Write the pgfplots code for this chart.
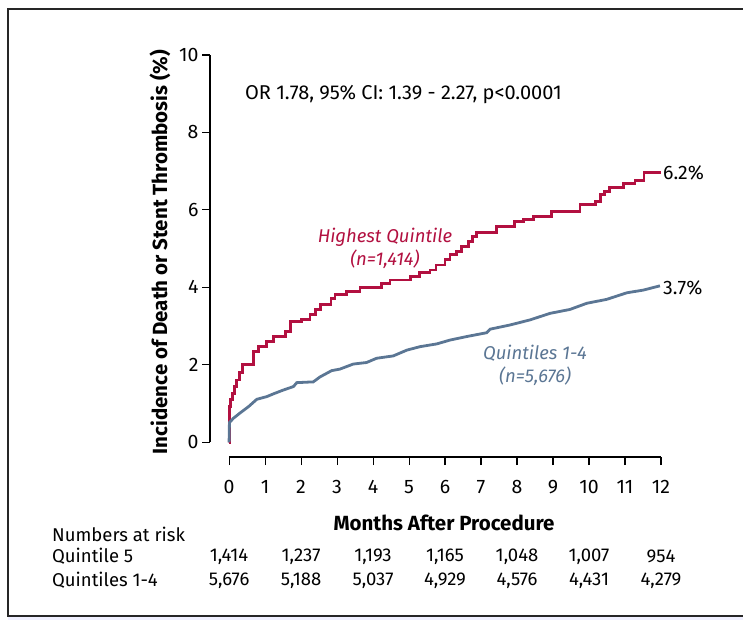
\documentclass[border=0pt]{standalone}
\usepackage{fontspec}
\setmainfont{Fira Sans}
\usepackage{pgfplots}
\pgfplotsset{compat=1.18}
\definecolor{qred}{RGB}{178,16,64}
\definecolor{qblue}{RGB}{91,118,148}
\tikzset{rfont/.style={font=\fontsize{18.5}{20}\selectfont}}
\begin{document}
\begin{tikzpicture}[x=1pt,y=1pt]
\useasboundingbox (0,0) rectangle (743,-620);
\fill[blue!6!white] (8,-617) rectangle (743,-620);
\draw[line width=1.4pt, black!85] (743,-9) -- (8,-9) -- (8,-616) -- (743,-616);
\node[rotate=90, font=\fontsize{20.5}{22}\selectfont\bfseries] at (160,-252) {Incidence of Death or Stent Thrombosis (\%)};
\node[font=\fontsize{20.5}{22}\selectfont\bfseries] at (444,-523) {Months After Procedure};
\begin{axis}[
  at={(210pt,-457pt)}, anchor=south west,
  scale only axis, width=451pt, height=402pt,
  xmin=-0.53, xmax=12, ymin=-0.38, ymax=10,
  axis lines=left, axis line style={draw=none,-},
  xtick={0,...,12}, ytick={0,2,...,10},
  tick align=outside, major tick length=8pt,
  tick style={black, line width=1.1pt},
  tick label style={font=\fontsize{19.5}{20}\selectfont},
  xticklabel style={yshift=-12pt},
  /pgf/number format/assume math mode=true,
  clip=false,
]
\draw[line width=1.2pt] (axis cs:0,-0.38) -- (axis cs:12,-0.38);
\draw[line width=1.2pt] (axis cs:-0.53,0) -- (axis cs:-0.53,10);
\addplot[const plot mark left, qred, line width=2.8pt, line join=miter] coordinates {
(0,0) (0.01,0.92) (0.05,1.1) (0.09,1.27) (0.15,1.45) (0.21,1.61) (0.28,1.8) (0.38,2.0)
(0.67,2.34) (0.81,2.47) (1.05,2.6) (1.23,2.73) (1.56,2.86) (1.71,3.11) (2.02,3.18)
(2.25,3.29) (2.39,3.42) (2.53,3.55) (2.83,3.72) (2.94,3.82) (3.27,3.89) (3.64,4.0)
(4.24,4.09) (4.47,4.19) (5.03,4.29) (5.29,4.38) (5.58,4.45) (5.75,4.58) (6.0,4.71)
(6.14,4.84) (6.31,4.92) (6.46,5.05) (6.65,5.18) (6.77,5.31) (6.88,5.41) (7.44,5.57)
(7.94,5.70) (8.19,5.76) (8.45,5.84) (8.96,5.95) (9.75,6.13) (10.19,6.21) (10.31,6.39)
(10.44,6.47) (10.58,6.58) (10.95,6.69) (11.28,6.75) (11.53,6.96) (12.0,6.96)};
\addplot[qblue, line width=2.8pt] coordinates {
(0,0) (0.01,0.51) (0.12,0.62) (0.31,0.76) (0.54,0.92) (0.77,1.11) (1.05,1.18) (1.23,1.25)
(1.51,1.35) (1.79,1.44) (1.88,1.54) (2.34,1.56) (2.53,1.69) (2.85,1.85) (3.08,1.89)
(3.45,2.02) (3.82,2.06) (4.1,2.17) (4.56,2.23) (4.94,2.38) (5.31,2.47) (5.77,2.54)
(6.14,2.64) (6.6,2.73) (7.16,2.83) (7.25,2.92) (7.81,3.03) (8.36,3.16) (8.92,3.33)
(9.47,3.43) (9.94,3.59) (10.49,3.69) (11.05,3.86) (11.51,3.93) (11.97,4.04)};
\node[anchor=west, inner sep=0pt, font=\fontsize{20}{20}\selectfont] at (axis cs:0.44,8.97) {OR 1.78, 95\% CI: 1.39 - 2.27, p<0.0001};
\node[align=center, text=qred, font=\fontsize{18.5}{23}\selectfont\itshape] at (axis cs:4.33,5.0) {Highest Quintile\\(n=1,414)};
\node[align=center, text=qblue, font=\fontsize{18.5}{23}\selectfont\itshape] at (axis cs:8.5,2.0) {Quintiles 1-4\\(n=5,676)};
\node[anchor=west, inner sep=2pt, font=\fontsize{19.5}{20}\selectfont] at (axis cs:12,6.96) {6.2\%};
\node[anchor=west, inner sep=2pt, font=\fontsize{19.5}{20}\selectfont] at (axis cs:12,4.0) {3.7\%};
\node[anchor=west, inner sep=0pt, rfont] at (axis cs:-4.92,-2.37) {Numbers at risk};
\node[anchor=west, inner sep=0pt, rfont] at (axis cs:-4.92,-2.95) {Quintile 5};
\node[anchor=west, inner sep=0pt, rfont] at (axis cs:-4.92,-3.57) {Quintiles 1-4};
\node[rfont] at (axis cs:0,-2.95) {1,414};
\node[rfont] at (axis cs:2,-2.95) {1,237};
\node[rfont] at (axis cs:4,-2.95) {1,193};
\node[rfont] at (axis cs:6,-2.95) {1,165};
\node[rfont] at (axis cs:8,-2.95) {1,048};
\node[rfont] at (axis cs:10,-2.95) {1,007};
\node[rfont] at (axis cs:12,-2.95) {954};
\node[rfont] at (axis cs:0,-3.57) {5,676};
\node[rfont] at (axis cs:2,-3.57) {5,188};
\node[rfont] at (axis cs:4,-3.57) {5,037};
\node[rfont] at (axis cs:6,-3.57) {4,929};
\node[rfont] at (axis cs:8,-3.57) {4,576};
\node[rfont] at (axis cs:10,-3.57) {4,431};
\node[rfont] at (axis cs:12,-3.57) {4,279};
\end{axis}
\end{tikzpicture}
\end{document}
